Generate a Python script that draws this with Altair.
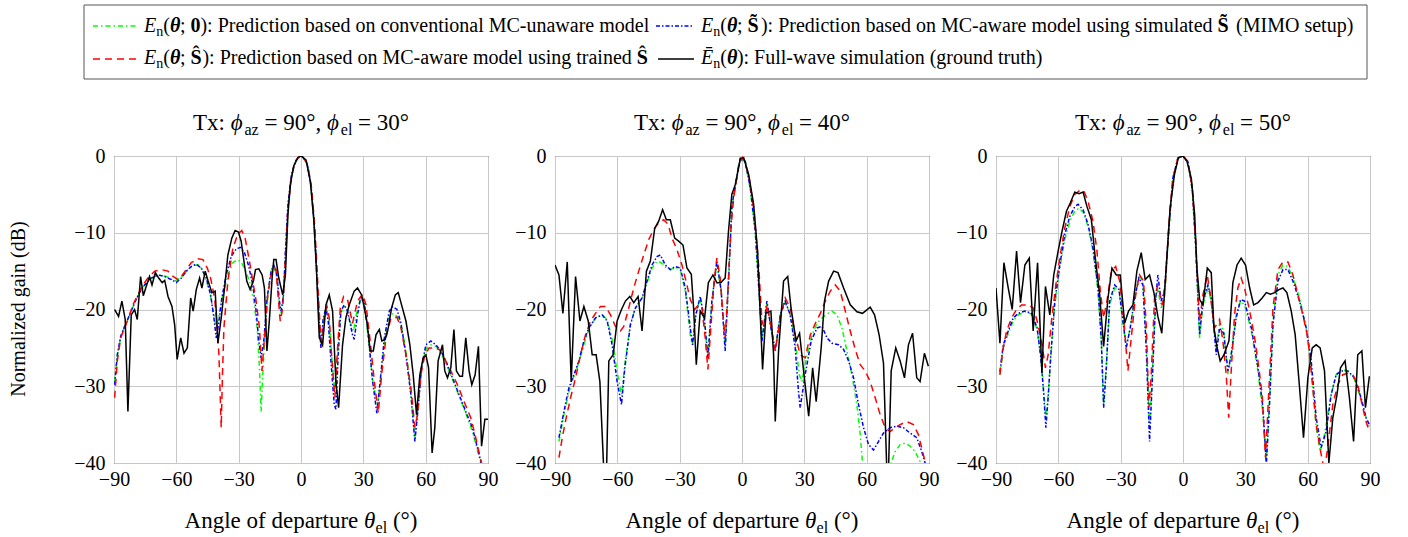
import altair as alt
import pandas as pd

FONT = "Liberation Serif"

# ---------------- data: (angle in degrees, normalized gain in dB) ----------------
P1_FW = [(-89.7,-20.0),(-87.8,-20.9),(-86.2,-18.9),(-84.6,-21.3),(-83.3,-33.3),(-81.7,-20.7),(-80.1,-20.0),(-78.8,-21.3),(-77.2,-15.7),(-75.9,-18.2),(-74.5,-17.0),(-72.9,-15.7),(-71.7,-16.8),(-70.1,-15.2),(-68.5,-15.9),(-66.8,-16.5),(-65.6,-16.2),(-64.0,-18.3),(-62.1,-19.6),(-60.8,-22.0),(-59.6,-26.5),(-57.9,-23.7),(-56.3,-25.7),(-54.7,-25.0),(-53.1,-18.5),(-51.9,-20.2),(-50.4,-17.4),(-48.8,-15.9),(-47.7,-17.2),(-46.1,-15.0),(-44.8,-16.2),(-42.9,-17.8),(-41.3,-17.6),(-40.0,-24.4),(-38.4,-21.1),(-36.8,-17.2),(-35.2,-12.9),(-33.3,-10.7),(-31.7,-9.7),(-30.1,-9.9),(-28.8,-11.1),(-27.2,-14.2),(-26.1,-16.3),(-24.5,-17.4),(-22.9,-16.3),(-21.9,-14.8),(-20.3,-14.7),(-18.7,-15.5),(-17.6,-17.2),(-16.4,-25.4),(-15.2,-21.3),(-13.9,-15.9),(-13.1,-13.5),(-12.0,-13.5),(-10.7,-15.9),(-8.8,-18.1),(-7.5,-15.5),(-6.3,-7.6),(-5.1,-3.7),(-3.5,-1.3),(-1.5,-0.2),(0.0,0.0),(2.4,-0.5),(4.5,-3.3),(6.1,-8.1),(7.4,-14.6),(8.8,-23.7),(10.4,-24.6),(12.0,-19.4),(13.6,-18.1),(15.2,-20.2),(16.8,-29.4),(18.1,-32.8),(20.0,-24.6),(21.6,-21.1),(23.2,-19.4),(25.6,-17.6),(27.2,-17.2),(29.2,-18.1),(31.7,-21.5),(33.3,-25.4),(34.8,-25.4),(36.1,-23.3),(37.7,-22.6),(38.9,-24.1),(40.5,-23.9),(42.0,-22.4),(43.6,-19.8),(45.4,-18.1),(46.8,-17.8),(48.4,-19.4),(50.5,-21.5),(52.4,-24.6),(54.0,-28.5),(55.6,-33.7),(57.2,-28.5),(58.8,-26.3),(60.1,-25.9),(61.4,-27.6),(63.1,-38.7),(64.4,-35.4),(66.0,-26.7),(68.1,-24.6),(69.2,-28.0),(70.5,-28.9),(72.1,-27.6),(73.6,-22.6),(74.8,-28.0),(76.4,-28.7),(77.7,-28.7),(79.3,-23.7),(80.9,-28.0),(82.2,-29.8),(83.8,-28.5),(85.4,-24.8),(86.9,-37.8),(88.5,-34.3),(90.0,-34.3)]

P1_TRN = [(-89.7,-31.5),(-88.4,-26.7),(-86.8,-23.7),(-84.9,-22.4),(-83.0,-21.1),(-80.9,-19.4),(-78.5,-18.1),(-76.1,-16.8),(-73.7,-15.9),(-70.4,-15.0),(-67.2,-14.8),(-64.0,-15.0),(-61.6,-15.7),(-59.2,-16.1),(-57.6,-15.7),(-55.2,-14.8),(-52.8,-13.9),(-49.6,-13.4),(-47.2,-13.5),(-45.1,-14.6),(-43.5,-15.9),(-41.6,-18.5),(-40.3,-22.4),(-39.5,-25.9),(-38.9,-31.1),(-38.4,-35.4),(-37.8,-28.5),(-37.1,-22.4),(-35.2,-16.3),(-32.8,-12.0),(-30.4,-10.2),(-28.5,-9.7),(-26.9,-10.7),(-24.8,-13.7),(-23.2,-16.3),(-21.6,-18.9),(-20.0,-22.4),(-18.8,-28.0),(-17.2,-22.4),(-16.0,-18.1),(-14.4,-15.5),(-13.1,-14.4),(-12.0,-14.8),(-11.2,-17.6),(-10.0,-21.5),(-8.8,-19.8),(-7.6,-13.7),(-6.3,-6.8),(-4.7,-2.9),(-3.1,-0.9),(-0.7,0.0),(0.5,0.0),(3.2,-1.1),(5.1,-4.2),(6.7,-9.4),(8.0,-16.3),(9.3,-22.8),(10.1,-25.0),(11.2,-20.7),(12.5,-19.6),(13.6,-21.1),(14.7,-25.9),(16.3,-31.5),(17.6,-25.0),(18.9,-19.8),(20.5,-18.3),(22.4,-18.7),(24.8,-21.8),(27.2,-18.9),(29.6,-18.0),(31.3,-19.4),(33.3,-24.1),(35.3,-29.4),(37.2,-33.5),(38.8,-28.5),(40.9,-23.7),(43.3,-21.1),(46.2,-21.0),(48.1,-22.4),(50.5,-25.9),(52.9,-30.2),(54.8,-35.4),(56.1,-33.7),(57.7,-28.5),(59.6,-25.9),(61.7,-25.0),(64.1,-25.0),(66.5,-25.2),(68.9,-26.3),(72.1,-28.0),(75.3,-29.8),(78.5,-32.0),(81.7,-34.1),(84.1,-36.7),(86.5,-39.6),(88.1,-41.1)]

P1_SIM = [(-89.7,-29.8),(-88.4,-25.9),(-86.8,-23.5),(-84.9,-22.2),(-82.5,-20.7),(-80.1,-19.1),(-77.7,-17.8),(-75.3,-16.8),(-72.1,-15.9),(-68.8,-15.5),(-65.6,-15.7),(-62.4,-16.1),(-60.0,-16.5),(-57.6,-15.9),(-55.2,-15.0),(-52.8,-14.4),(-50.4,-14.1),(-48.0,-14.6),(-45.6,-15.9),(-43.5,-18.1),(-41.9,-21.1),(-40.8,-23.7),(-39.7,-22.0),(-38.1,-18.5),(-36.0,-15.5),(-33.6,-13.1),(-31.2,-12.1),(-29.1,-11.9),(-27.2,-12.6),(-25.3,-14.2),(-23.2,-16.8),(-21.6,-20.2),(-20.3,-24.1),(-19.2,-26.3),(-17.9,-24.1),(-16.3,-18.5),(-14.4,-15.0),(-13.1,-14.2),(-11.6,-15.5),(-10.4,-18.9),(-9.6,-20.2),(-8.4,-18.1),(-7.5,-12.4),(-6.3,-6.3),(-4.7,-2.6),(-2.8,-0.7),(-0.7,0.0),(0.5,0.0),(2.9,-0.9),(4.8,-3.7),(6.4,-8.9),(7.7,-15.9),(9.0,-22.8),(9.6,-25.0),(10.7,-21.1),(12.0,-19.8),(13.1,-21.5),(14.4,-26.7),(16.0,-32.4),(16.8,-33.0),(17.9,-25.9),(19.2,-20.2),(20.8,-19.4),(22.4,-20.2),(24.8,-23.3),(25.6,-23.9),(27.2,-20.7),(28.8,-18.3),(30.4,-18.9),(32.4,-23.3),(34.5,-29.4),(36.5,-33.5),(38.1,-29.4),(40.1,-23.7),(42.5,-20.2),(44.1,-19.6),(46.2,-20.0),(48.1,-21.8),(50.5,-25.9),(52.9,-31.1),(54.8,-37.2),(56.4,-32.8),(58.0,-27.6),(60.1,-24.6),(62.5,-24.1),(64.9,-24.6),(67.3,-25.4),(69.7,-26.7),(72.9,-28.9),(76.1,-31.1),(79.3,-33.3),(82.5,-35.4),(84.9,-38.0),(87.3,-40.6)]

P1_MCU = [(-89.7,-29.4),(-88.4,-25.9),(-86.5,-23.3),(-84.1,-21.8),(-81.7,-20.2),(-79.3,-18.7),(-76.9,-17.4),(-73.7,-16.3),(-70.4,-15.7),(-67.2,-15.5),(-64.0,-15.8),(-60.8,-16.3),(-57.6,-15.8),(-54.4,-14.8),(-51.2,-14.2),(-48.8,-14.2),(-46.4,-15.5),(-44.0,-17.6),(-41.9,-20.7),(-40.8,-22.4),(-39.7,-21.1),(-37.6,-18.1),(-35.2,-15.5),(-32.8,-13.9),(-30.7,-13.5),(-28.8,-13.8),(-26.9,-14.8),(-24.8,-16.3),(-22.7,-18.9),(-21.1,-22.4),(-20.0,-27.6),(-19.2,-33.3),(-18.4,-28.5),(-17.2,-22.4),(-16.0,-18.1),(-14.4,-15.0),(-13.1,-14.2),(-11.6,-15.9),(-10.4,-19.4),(-9.4,-20.7),(-8.3,-17.6),(-7.1,-12.0),(-6.0,-5.9),(-4.4,-2.4),(-2.3,-0.5),(-0.4,0.0),(0.6,0.0),(2.9,-1.0),(4.8,-4.0),(6.4,-9.2),(7.7,-16.1),(9.0,-22.6),(9.8,-24.6),(10.9,-21.1),(12.2,-20.0),(13.5,-21.3),(14.7,-25.9),(16.3,-30.7),(17.6,-25.9),(18.9,-20.7),(20.5,-19.6),(22.1,-20.0),(24.4,-22.2),(25.3,-22.8),(26.9,-20.2),(28.8,-18.5),(30.4,-19.4),(32.4,-23.7),(34.5,-29.4),(36.9,-32.4),(38.5,-28.5),(40.4,-23.7),(42.8,-20.7),(44.9,-20.5),(46.8,-21.1),(48.9,-22.8),(51.0,-26.3),(52.9,-31.1),(54.8,-36.7),(56.4,-32.4),(58.0,-27.6),(60.1,-25.2),(62.5,-24.6),(64.9,-24.8),(67.3,-25.7),(69.7,-27.0),(72.9,-29.1),(76.1,-31.3),(79.3,-33.5),(82.5,-35.9),(84.9,-38.3),(87.3,-40.9)]

P2_FW = [(-90.0,-14.2),(-88.1,-15.5),(-86.2,-20.5),(-84.1,-13.8),(-82.2,-29.4),(-80.1,-15.7),(-78.0,-21.5),(-76.1,-19.6),(-74.0,-21.5),(-72.1,-25.9),(-70.2,-25.9),(-68.4,-29.4),(-66.5,-41.1),(-65.2,-41.1),(-64.1,-26.7),(-62.0,-25.9),(-60.1,-21.5),(-58.0,-20.0),(-56.1,-18.9),(-54.0,-18.3),(-52.1,-19.1),(-50.0,-18.3),(-48.1,-22.8),(-46.0,-15.0),(-44.1,-13.7),(-42.0,-9.4),(-40.1,-8.5),(-38.2,-7.0),(-36.4,-8.3),(-34.5,-8.3),(-32.4,-10.7),(-30.5,-11.1),(-28.4,-11.6),(-26.5,-14.6),(-24.4,-15.4),(-23.3,-19.8),(-22.0,-27.2),(-20.1,-20.2),(-18.0,-21.1),(-16.2,-16.5),(-14.0,-15.5),(-12.1,-16.5),(-10.2,-16.5),(-8.1,-15.9),(-6.5,-9.8),(-4.9,-5.0),(-3.2,-3.7),(-0.8,-0.3),(0.8,-0.2),(3.2,-2.4),(5.6,-6.3),(7.5,-12.4),(8.8,-20.7),(9.9,-27.8),(11.5,-20.5),(13.9,-20.2),(15.2,-25.9),(16.0,-34.6),(17.6,-25.4),(20.0,-16.3),(22.0,-15.7),(23.6,-19.8),(26.0,-24.1),(27.7,-23.1),(30.0,-28.9),(32.1,-33.9),(34.0,-27.6),(35.7,-32.0),(38.1,-25.0),(39.7,-18.9),(41.7,-16.3),(44.1,-15.0),(46.2,-15.2),(48.9,-17.2),(52.1,-19.4),(55.3,-20.3),(58.0,-20.5),(61.7,-19.7),(63.8,-20.7),(66.0,-23.3),(68.1,-27.0),(69.7,-41.0),(70.5,-41.0),(71.8,-28.0),(74.0,-25.0),(76.1,-26.7),(78.2,-28.9),(80.1,-24.6),(82.1,-23.1),(84.1,-28.9),(85.7,-29.4),(87.8,-25.7),(89.7,-27.4)]

P2_TRN = [(-88.1,-39.3),(-86.5,-36.7),(-84.6,-34.1),(-82.5,-31.5),(-80.1,-28.9),(-77.7,-25.9),(-75.3,-23.3),(-72.9,-21.5),(-70.5,-20.5),(-68.1,-19.6),(-65.7,-19.6),(-63.3,-20.7),(-60.9,-22.2),(-58.5,-22.8),(-56.9,-22.2),(-54.5,-19.8),(-52.1,-17.2),(-49.7,-15.0),(-47.3,-12.9),(-44.9,-10.9),(-42.5,-9.6),(-40.1,-8.7),(-37.7,-8.3),(-35.6,-8.9),(-33.7,-10.7),(-31.3,-12.2),(-28.9,-14.2),(-26.5,-16.8),(-24.9,-18.7),(-22.8,-20.0),(-20.9,-19.4),(-19.3,-19.8),(-17.7,-23.7),(-16.4,-27.8),(-15.0,-22.4),(-13.4,-16.3),(-12.1,-13.3),(-10.5,-15.9),(-8.9,-21.5),(-8.1,-23.7),(-6.8,-17.6),(-5.2,-8.9),(-4.0,-5.5),(-1.6,-1.1),(0.3,-0.2),(3.2,-2.4),(5.6,-6.8),(8.0,-14.2),(9.6,-21.5),(10.9,-22.4),(12.0,-19.4),(13.6,-21.7),(16.0,-25.4),(18.4,-21.1),(20.8,-18.5),(23.2,-19.8),(25.6,-23.3),(28.0,-25.9),(30.4,-26.3),(32.9,-23.3),(35.3,-21.8),(37.7,-20.5),(40.1,-18.9),(42.5,-17.6),(44.9,-16.8),(47.3,-17.6),(49.7,-20.2),(52.1,-22.8),(54.5,-25.2),(56.9,-27.2),(59.3,-28.0),(61.7,-29.4),(64.1,-31.5),(66.5,-33.7),(68.9,-35.4),(71.3,-35.9),(73.7,-35.4),(76.1,-35.0),(79.3,-34.6),(82.5,-35.0),(84.9,-36.3),(86.9,-38.5),(88.1,-39.8),(89.1,-40.9)]

P2_SIM = [(-88.1,-36.7),(-85.7,-33.3),(-83.3,-30.2),(-80.9,-28.5),(-78.5,-26.7),(-76.1,-24.1),(-73.7,-22.4),(-70.5,-21.1),(-67.3,-20.7),(-64.9,-21.5),(-62.5,-24.6),(-60.1,-29.4),(-58.0,-32.4),(-56.4,-27.6),(-53.7,-22.0),(-51.3,-19.8),(-48.1,-18.5),(-45.7,-16.3),(-43.3,-14.2),(-40.9,-13.1),(-39.3,-12.9),(-36.9,-14.2),(-34.5,-14.8),(-32.1,-14.4),(-29.7,-14.6),(-27.3,-17.2),(-24.9,-22.4),(-23.8,-24.6),(-22.2,-20.7),(-20.1,-18.3),(-18.0,-21.5),(-16.4,-26.3),(-14.5,-18.9),(-12.1,-13.7),(-10.0,-17.6),(-8.1,-25.4),(-6.5,-16.3),(-4.9,-6.8),(-4.0,-5.0),(-0.8,-0.3),(1.6,-0.7),(4.0,-4.2),(6.4,-9.8),(8.5,-18.9),(9.6,-24.1),(12.0,-18.9),(13.9,-22.4),(16.0,-25.4),(18.4,-20.7),(20.8,-18.9),(23.2,-20.7),(25.6,-25.0),(27.2,-30.7),(28.0,-32.8),(30.4,-28.5),(33.3,-24.1),(36.1,-22.4),(38.5,-22.2),(40.9,-23.7),(43.3,-24.4),(46.5,-24.6),(48.9,-25.2),(51.3,-26.7),(53.7,-28.9),(56.1,-32.4),(58.5,-35.4),(60.9,-37.6),(63.3,-38.3),(65.7,-37.2),(68.1,-36.1),(71.3,-35.4),(74.5,-35.2),(77.7,-35.4),(80.9,-36.1),(84.1,-36.7),(86.5,-38.5),(88.1,-40.0),(89.1,-41.1)]

P2_MCU = [(-88.1,-37.2),(-85.7,-33.7),(-83.3,-30.7),(-80.9,-28.7),(-78.5,-26.9),(-76.1,-24.6),(-73.7,-22.6),(-70.5,-21.1),(-67.3,-20.7),(-64.9,-21.3),(-62.5,-23.9),(-60.1,-28.1),(-58.0,-31.1),(-56.4,-27.2),(-53.7,-21.8),(-51.3,-19.8),(-48.1,-18.5),(-45.7,-16.5),(-43.3,-14.6),(-40.9,-13.7),(-38.8,-13.9),(-36.4,-14.6),(-34.5,-14.8),(-32.1,-14.5),(-29.7,-14.8),(-27.3,-17.6),(-24.9,-23.3),(-23.8,-24.6),(-22.2,-20.5),(-20.1,-18.5),(-18.0,-22.0),(-16.4,-25.9),(-14.5,-18.9),(-12.1,-13.9),(-10.0,-17.8),(-8.1,-24.8),(-6.5,-16.3),(-4.9,-6.8),(-4.0,-5.3),(-0.8,-0.3),(1.6,-0.8),(4.0,-4.4),(6.4,-10.0),(8.5,-19.1),(9.6,-23.9),(12.0,-19.1),(13.9,-22.2),(16.0,-25.2),(18.4,-20.7),(20.8,-19.1),(23.2,-20.7),(25.6,-24.1),(27.6,-28.5),(28.8,-29.4),(31.3,-25.9),(33.7,-23.3),(36.1,-21.8),(38.5,-21.1),(40.9,-20.6),(43.3,-20.2),(45.7,-20.7),(48.1,-22.4),(50.5,-25.4),(52.9,-28.5),(55.3,-32.4),(56.9,-36.3),(58.0,-40.0),(59.3,-45.9),(70.5,-45.9),(71.8,-40.0),(73.7,-38.5),(76.1,-37.6),(78.5,-37.4),(80.9,-37.8),(83.3,-38.5),(85.7,-39.8),(88.1,-41.5)]

P3_FW = [(-90.0,-17.2),(-88.1,-24.4),(-86.2,-13.9),(-84.1,-17.2),(-82.2,-20.0),(-80.1,-12.4),(-78.2,-19.1),(-76.1,-14.2),(-74.0,-13.3),(-72.1,-22.8),(-70.0,-13.9),(-67.9,-28.3),(-66.2,-17.0),(-64.1,-20.7),(-62.2,-15.5),(-60.1,-12.4),(-58.2,-9.8),(-56.1,-7.2),(-54.2,-6.1),(-52.1,-4.7),(-50.0,-4.9),(-48.1,-4.7),(-46.2,-6.6),(-44.1,-8.3),(-42.2,-13.3),(-40.1,-18.1),(-38.2,-24.8),(-36.1,-18.5),(-34.2,-14.6),(-32.1,-15.5),(-30.2,-15.5),(-28.1,-21.8),(-26.2,-20.2),(-24.1,-19.4),(-22.2,-15.0),(-20.1,-12.6),(-18.2,-16.1),(-16.1,-15.5),(-14.0,-17.8),(-12.1,-20.9),(-10.2,-23.1),(-8.1,-14.6),(-6.2,-6.8),(-4.1,-2.4),(-2.2,-0.2),(0.0,0.0),(1.9,-0.7),(4.0,-2.9),(5.6,-7.6),(6.7,-14.6),(8.0,-18.7),(9.6,-19.4),(11.7,-14.6),(13.6,-15.2),(14.9,-22.4),(16.3,-24.8),(17.9,-26.7),(19.7,-25.9),(22.1,-24.1),(24.0,-16.5),(26.0,-14.2),(28.0,-13.3),(30.1,-14.2),(32.1,-17.2),(34.0,-19.4),(36.1,-19.1),(38.1,-18.5),(40.1,-17.8),(42.1,-18.0),(44.1,-17.8),(46.2,-17.4),(48.1,-17.2),(50.0,-17.8),(52.1,-20.2),(54.0,-23.3),(56.1,-30.2),(58.0,-36.7),(60.1,-28.9),(62.2,-25.0),(64.1,-24.6),(66.0,-25.0),(68.1,-28.0),(70.2,-40.0),(72.1,-34.1),(74.0,-31.3),(75.8,-27.6),(78.0,-26.7),(80.1,-31.5),(82.1,-37.2),(84.1,-25.9),(86.1,-25.4),(87.8,-32.8),(89.7,-28.7)]

P3_TRN = [(-88.1,-28.5),(-86.8,-25.4),(-84.9,-22.8),(-82.5,-21.1),(-80.1,-20.0),(-77.7,-19.4),(-74.5,-19.4),(-72.1,-19.8),(-70.2,-21.5),(-68.1,-24.1),(-66.2,-27.6),(-64.9,-25.9),(-63.3,-21.5),(-61.2,-16.8),(-59.3,-13.3),(-56.9,-9.4),(-54.5,-6.6),(-52.1,-5.0),(-49.7,-4.5),(-47.8,-4.5),(-45.7,-5.9),(-43.3,-8.5),(-41.4,-12.4),(-39.8,-17.6),(-38.2,-21.1),(-36.6,-18.9),(-34.5,-15.0),(-32.4,-14.4),(-30.5,-16.3),(-28.6,-21.1),(-26.5,-28.0),(-24.9,-23.7),(-22.8,-18.1),(-20.9,-15.5),(-19.0,-16.3),(-17.7,-22.0),(-16.4,-32.8),(-15.3,-28.5),(-13.7,-18.5),(-12.1,-16.8),(-10.0,-19.4),(-8.4,-16.3),(-6.8,-8.9),(-4.9,-2.9),(-2.5,-0.3),(0.0,0.0),(2.4,-0.7),(4.5,-4.2),(6.1,-11.1),(7.2,-17.6),(8.0,-21.5),(9.6,-18.1),(11.7,-15.5),(13.1,-18.1),(15.2,-22.4),(17.6,-21.3),(19.2,-24.1),(20.8,-28.5),(22.0,-34.1),(23.2,-28.0),(24.8,-20.7),(26.4,-17.2),(28.0,-15.9),(29.6,-17.2),(32.1,-20.2),(34.5,-23.7),(36.5,-27.6),(38.1,-31.1),(39.7,-39.3),(41.7,-28.5),(43.3,-19.8),(45.7,-14.8),(48.1,-13.8),(50.5,-13.8),(52.9,-15.5),(55.3,-18.1),(57.7,-20.7),(60.1,-23.7),(62.2,-29.4),(64.1,-35.0),(66.5,-38.9),(68.1,-41.1),(70.0,-37.2),(72.1,-32.4),(74.5,-29.8),(76.9,-28.5),(79.3,-28.3),(81.7,-28.5),(84.1,-29.8),(86.2,-32.4),(88.1,-34.6),(89.7,-35.9)]

P3_SIM = [(-88.1,-28.1),(-86.5,-24.6),(-84.1,-22.8),(-81.7,-21.1),(-79.3,-20.5),(-76.1,-20.2),(-72.9,-20.5),(-70.2,-22.4),(-68.4,-26.3),(-67.0,-31.1),(-66.0,-35.4),(-64.9,-31.5),(-63.6,-25.9),(-61.7,-18.9),(-59.3,-14.2),(-56.9,-10.2),(-54.5,-7.9),(-52.1,-6.6),(-50.5,-6.3),(-48.1,-7.0),(-45.7,-8.9),(-43.3,-12.0),(-40.9,-17.2),(-39.3,-24.1),(-38.2,-32.8),(-36.9,-27.6),(-35.3,-18.9),(-32.9,-16.8),(-30.8,-17.4),(-28.9,-21.5),(-27.3,-25.0),(-25.4,-22.4),(-23.3,-18.5),(-21.2,-15.9),(-19.3,-16.8),(-17.7,-25.0),(-16.1,-37.2),(-14.8,-29.4),(-13.2,-18.9),(-12.1,-15.5),(-10.5,-18.9),(-8.9,-17.6),(-6.8,-9.4),(-4.9,-2.9),(-2.5,-0.3),(0.0,0.0),(2.4,-0.8),(4.5,-4.4),(6.1,-11.6),(7.2,-18.5),(8.0,-23.3),(9.6,-18.9),(12.0,-16.8),(13.6,-18.5),(16.0,-25.9),(17.6,-22.4),(19.6,-23.1),(21.6,-28.0),(23.2,-25.9),(25.6,-21.1),(27.7,-18.7),(29.6,-18.9),(32.9,-22.4),(36.1,-27.6),(38.5,-32.8),(40.1,-40.2),(41.7,-32.0),(43.3,-22.0),(45.7,-16.3),(48.1,-14.8),(50.5,-14.8),(52.9,-16.3),(56.1,-18.9),(59.3,-22.4),(61.7,-26.7),(64.1,-34.1),(66.5,-38.0),(68.9,-35.9),(71.3,-31.1),(73.7,-28.5),(76.1,-28.0),(79.3,-28.0),(82.5,-28.9),(85.7,-31.5),(88.1,-34.1),(89.7,-35.0)]

P3_MCU = [(-88.1,-28.5),(-86.5,-25.0),(-84.1,-23.1),(-81.7,-21.5),(-79.3,-20.7),(-76.1,-20.3),(-72.9,-20.6),(-70.2,-22.6),(-68.4,-26.3),(-67.0,-30.7),(-66.0,-34.1),(-64.9,-31.1),(-63.6,-25.9),(-61.7,-19.4),(-59.3,-14.6),(-56.9,-10.9),(-54.5,-8.5),(-52.1,-7.2),(-50.0,-6.8),(-47.8,-7.4),(-45.7,-9.2),(-43.3,-12.4),(-40.9,-17.6),(-39.3,-24.1),(-38.2,-32.4),(-36.9,-27.2),(-35.3,-19.4),(-32.9,-17.2),(-30.8,-17.6),(-28.9,-21.8),(-27.3,-24.8),(-25.4,-22.4),(-23.3,-18.9),(-21.2,-15.5),(-19.3,-16.3),(-17.7,-24.1),(-16.1,-35.4),(-14.8,-28.5),(-13.2,-18.9),(-12.1,-17.2),(-10.5,-19.8),(-8.9,-18.5),(-6.8,-9.8),(-4.9,-3.1),(-2.5,-0.3),(0.0,0.0),(2.4,-0.8),(4.5,-4.6),(6.1,-12.0),(7.2,-18.9),(8.0,-23.7),(9.6,-19.4),(12.0,-17.2),(13.6,-18.9),(16.0,-25.0),(17.6,-21.8),(19.6,-22.8),(21.6,-28.5),(23.2,-25.9),(25.6,-20.7),(27.7,-18.9),(29.6,-19.4),(32.9,-22.8),(36.1,-28.1),(38.5,-33.7),(40.1,-39.8),(41.7,-31.5),(43.3,-21.5),(45.7,-15.5),(48.1,-14.2),(50.5,-14.4),(52.9,-15.9),(56.1,-18.5),(59.3,-22.4),(61.7,-27.6),(64.1,-35.4),(66.0,-38.5),(68.1,-36.3),(71.3,-31.1),(73.7,-28.5),(76.1,-27.8),(79.3,-28.0),(82.5,-29.1),(85.7,-31.7),(88.1,-34.1),(89.7,-35.2)]

X_TICKS = [-90, -60, -30, 0, 30, 60, 90]
Y_TICKS = [-40, -30, -20, -10, 0]
PANEL_EL = ["30", "40", "50"]

# ---------------- styling ----------------
W, H = 374, 307
GREEN, BLUE, RED = "#00ff00", "#0000ff", "#ff0000"
DASH_MCU = [5, 3, 1.5, 3]
DASH_SIM = [4, 2, 1.5, 2]
DASH_TRN = [7, 5]
SUB = 0.7

# approximate advance widths (1/1000 em) for Liberation Serif (Times metrics)
_W = {' ': 250, '!': 333, '(': 333, ')': 333, ',': 250, '-': 333, '.': 250,
      ':': 278, ';': 278, '=': 564, '°': 400, '−': 564,
      'A': 722, 'B': 667, 'C': 667, 'D': 722, 'E': 611, 'F': 556, 'G': 722, 'H': 722, 'I': 333,
      'J': 389, 'K': 722, 'L': 611, 'M': 889, 'N': 722, 'O': 722, 'P': 556, 'Q': 722, 'R': 667,
      'S': 556, 'T': 611, 'U': 722, 'V': 722, 'W': 944, 'X': 722, 'Y': 722, 'Z': 611,
      'a': 444, 'b': 500, 'c': 444, 'd': 500, 'e': 444, 'f': 333, 'g': 500, 'h': 500, 'i': 278,
      'j': 278, 'k': 500, 'l': 278, 'm': 778, 'n': 500, 'o': 500, 'p': 500, 'q': 500, 'r': 333,
      's': 389, 't': 278, 'u': 500, 'v': 500, 'w': 722, 'x': 500, 'y': 500, 'z': 444,
      'θ': 500, 'ϕ': 600, 'Ē': 611, 'Ŝ': 600, '\u0303': 120}

ONE = pd.DataFrame({"k": [0]})


def _w(t, s):
    return sum(_W.get(c, 500) for c in t) / 1000 * s


def text_run(parts, x, y, size, center=False):
    """parts: (text, kind); kind: r=roman, i=italic, b=bold, bi=bold italic, s=subscript."""
    sizes = [size * SUB if k == "s" else size for _, k in parts]
    widths = [_w(t, s) for (t, _), s in zip(parts, sizes)]
    cx = x - sum(widths) / 2 if center else x
    out = []
    for (t, k), s, w in zip(parts, sizes, widths):
        dy = size * 0.22 if k == "s" else 0
        lead = len(t) - len(t.lstrip(" "))
        core = t.strip(" ")
        if core:
            out.append(
                alt.Chart(ONE).mark_text(
                    text=core, align="left", baseline="alphabetic", font=FONT,
                    fontSize=s, fontStyle="italic" if "i" in k else "normal",
                    fontWeight="bold" if "b" in k else "normal", color="black",
                ).encode(x=alt.value(cx + _w(" " * lead, s)), y=alt.value(y + dy))
            )
        cx += w
    return out


X_ENC = alt.X("angle:Q", scale=alt.Scale(domain=[-90, 90], nice=False, zero=False),
              axis=alt.Axis(values=X_TICKS, title=None, format="d"))
Y_ENC = alt.Y("gain:Q", scale=alt.Scale(domain=[-40, 0], nice=False, zero=False),
              axis=alt.Axis(values=Y_TICKS, title=None, format="d"))


def line_layer(pts, color, dash):
    df = pd.DataFrame(pts, columns=["angle", "gain"])
    mk = dict(color=color, strokeWidth=1.5, clip=True)
    if dash:
        mk["strokeDash"] = dash
    return alt.Chart(df).mark_line(**mk).encode(x=X_ENC, y=Y_ENC)


def panel(mcu, sim, trn, fw, el, first):
    layers = []
    if first:
        # invisible anchor fixing the page origin
        layers.append(alt.Chart(ONE).mark_rect(fill="white", opacity=1).encode(
            x=alt.value(-113), x2=alt.value(-112), y=alt.value(-155), y2=alt.value(-154)))
        # legend box
        layers.append(alt.Chart(ONE).mark_rect(fill="transparent", stroke="#555555", strokeWidth=1).encode(
            x=alt.value(-30), x2=alt.value(1253), y=alt.value(-151), y2=alt.value(-77)))
        # legend samples
        for (xa, xb, yy, col, dash) in [(-21, 24, -130, GREEN, DASH_MCU),
                                        (542, 579, -130, BLUE, DASH_SIM),
                                        (-21, 24, -97, RED, DASH_TRN),
                                        (544, 580, -97, "black", [1, 0])]:
            layers.append(alt.Chart(ONE).mark_rule(color=col, strokeDash=dash, strokeWidth=1.5).encode(
                x=alt.value(xa), x2=alt.value(xb), y=alt.value(yy)))
        fs = 20
        layers += text_run([("E", "i"), ("n", "s"), ("(", "r"), ("θ", "bi"), ("; ", "r"), ("0", "b"),
                            ("): Prediction based on conventional MC-unaware model", "r")], 30, -124, fs)
        layers += text_run([("E", "i"), ("n", "s"), ("(", "r"), ("θ", "bi"), ("; ", "r"), ("S\u0303", "b"),
                            ("): Prediction based on MC-aware model using simulated ", "r"), ("S\u0303", "b"),
                            (" (MIMO setup)", "r")], 587, -124, fs)
        layers += text_run([("E", "i"), ("n", "s"), ("(", "r"), ("θ", "bi"), ("; ", "r"), ("Ŝ", "b"),
                            ("): Prediction based on MC-aware model using trained ", "r"), ("Ŝ", "b")],
                           30, -92, fs)
        layers += text_run([("Ē", "i"), ("n", "s"), ("(", "r"), ("θ", "bi"),
                            ("): Full-wave simulation (ground truth)", "r")], 587, -92, fs)
        # y-axis title
        layers.append(alt.Chart(ONE).mark_text(
            text="Normalized gain (dB)", angle=270, align="center", baseline="middle",
            font=FONT, fontSize=20, color="black").encode(x=alt.value(-95), y=alt.value(153)))

    layers.append(line_layer(mcu, GREEN, DASH_MCU))
    layers.append(line_layer(sim, BLUE, DASH_SIM))
    layers.append(line_layer(trn, RED, DASH_TRN))
    layers.append(line_layer(fw, "black", None))

    # panel title
    layers += text_run([("Tx: ", "r"), ("ϕ", "i"), ("az", "s"), (" = 90°, ", "r"), ("ϕ", "i"),
                        ("el", "s"), (" = " + el + "°", "r")], W / 2, -26, 23, center=True)
    # x-axis title
    layers += text_run([("Angle of departure ", "r"), ("θ", "i"), ("el", "s"), (" (°)", "r")],
                       W / 2, 372, 23, center=True)
    return alt.layer(*layers).properties(width=W, height=H)


p1 = panel(P1_MCU, P1_SIM, P1_TRN, P1_FW, PANEL_EL[0], True)
p2 = panel(P2_MCU, P2_SIM, P2_TRN, P2_FW, PANEL_EL[1], False)
p3 = panel(P3_MCU, P3_SIM, P3_TRN, P3_FW, PANEL_EL[2], False)

chart = (
    alt.hconcat(p1, p2, p3, spacing=67, bounds="flush")
    .properties(padding=0, background="white")
    .configure_view(stroke="black", strokeWidth=1)
    .configure_axis(grid=True, gridColor="#c8c8c8", gridWidth=1, domain=False, ticks=False,
                    labelFont=FONT, labelFontSize=20, labelColor="black", labelFlush=False,
                    labelOverlap=False)
    .configure_axisX(labelPadding=6)
    .configure_axisY(labelPadding=9)
)

chart.save("out.html", embed_options={"renderer": "svg", "actions": False})
